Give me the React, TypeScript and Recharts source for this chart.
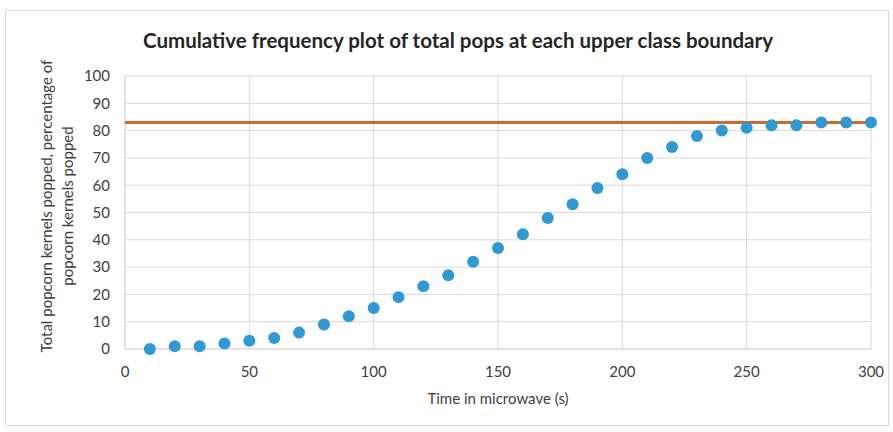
import React from 'react';
import { ScatterChart, Scatter, XAxis, YAxis, CartesianGrid } from 'recharts';

// time in microwave (s)
const times = [10, 20, 30, 40, 50, 60, 70, 80, 90, 100, 110, 120, 130, 140, 150, 160, 170, 180, 190, 200, 210, 220, 230, 240, 250, 260, 270, 280, 290, 300];
// cumulative pops at each upper class boundary
const totalPops = [0, 1, 1, 2, 3, 4, 6, 9, 12, 15, 19, 23, 27, 32, 37, 42, 48, 53, 59, 64, 70, 74, 78, 80, 81, 82, 82, 83, 83, 83];

// total kernels popped line
const totalLineX = [0, 300];
const totalLineY = [83, 83];

const xTicks = [0, 50, 100, 150, 200, 250, 300];
const yTicks = [0, 10, 20, 30, 40, 50, 60, 70, 80, 90, 100];

const FONT = 'Lato, "Open Sans", sans-serif';
const GRID = '#d9d9d9';
const TEXT = '#404040';

const Dot = (props: any) => <circle cx={props.cx} cy={props.cy} r={6} fill="#2d9ad5" />;

const App: React.FC = () => {
  const points = times.map((t, i) => ({ x: t, y: totalPops[i] }));
  const totalLine = totalLineX.map((x, i) => ({ x, y: totalLineY[i] }));

  return (
    <div style={{ position: 'absolute', left: 0, top: 0, width: 893, height: 432, background: '#fff', fontFamily: FONT }}>
      <div style={{ position: 'absolute', left: 5, top: 10, width: 882, height: 414, border: `1px solid ${GRID}` }} />
      <div style={{ position: 'absolute', left: 0, top: 28, width: 916, textAlign: 'center', fontSize: 20.5, fontWeight: 700, color: '#262626' }}>
        Cumulative frequency plot of total pops at each upper class boundary
      </div>
      <div
        style={{
          position: 'absolute', left: 57 - 200, top: 206 - 21, width: 400, height: 42,
          transform: 'rotate(-90deg)', textAlign: 'center', fontSize: 15, lineHeight: '21px', color: TEXT,
        }}
      >
        Total popcorn kernels popped, percentage of<br />popcorn kernels popped
      </div>
      <div style={{ position: 'absolute', left: 125, top: 389, width: 746, textAlign: 'center', fontSize: 15, color: TEXT }}>
        Time in microwave (s)
      </div>
      <ScatterChart width={893} height={432} margin={{ top: 76, right: 22, bottom: 38, left: 75 }} style={{ position: 'absolute', left: 0, top: 0 }}>
        <CartesianGrid stroke={GRID} />
        <XAxis
          type="number"
          dataKey="x"
          domain={[0, 300]}
          ticks={xTicks}
          interval={0}
          height={45}
          axisLine={{ stroke: GRID }}
          tickLine={false}
          tickMargin={11}
          tick={{ fill: TEXT, fontSize: 15, fontFamily: FONT }}
        />
        <YAxis
          type="number"
          dataKey="y"
          domain={[0, 100]}
          ticks={yTicks}
          interval={0}
          width={50}
          axisLine={{ stroke: GRID }}
          tickLine={false}
          tickMargin={9}
          tick={{ fill: TEXT, fontSize: 15, fontFamily: FONT }}
        />
        <Scatter
          data={totalLine}
          line={{ stroke: '#cf6a2b', strokeWidth: 3 }}
          lineType="joint"
          shape={() => <g />}
          isAnimationActive={false}
        />
        <Scatter data={points} shape={Dot} isAnimationActive={false} />
      </ScatterChart>
    </div>
  );
};

export default App;
